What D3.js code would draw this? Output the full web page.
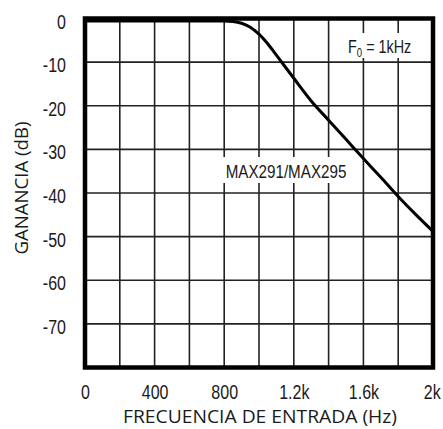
<!DOCTYPE html>
<html><head><meta charset="utf-8">
<script src="https://cdn.jsdelivr.net/npm/d3@7"></script>
<style>body{margin:0;background:#fff}svg{display:block}</style>
</head><body>
<script>
const freqHz = [0,200,400,600,800,850,900,950,1000,1050,1100,1200,1300,1400,1500,1600,1700,1800,1900,2000];
const gainDb = [-0.6,-0.6,-0.6,-0.6,-0.6,-0.7,-1.1,-2.0,-3.6,-5.8,-8.4,-13.7,-18.9,-23.3,-27.7,-32.1,-36.4,-40.8,-44.9,-48.8];
const xTicks = [0,400,800,1200,1600,2000];
const xTickLabels = ["0","400","800","1.2k","1.6k","2k"];
const xGrid = [200,400,600,800,1000,1200,1400,1600,1800];
const yTicks = [0,-10,-20,-30,-40,-50,-60,-70];
const yGrid = [-10,-20,-30,-40,-50,-60,-70];
const seriesName = "MAX291/MAX295";

const W=443,H=429;
const svg=d3.select("body").append("svg").attr("width",W).attr("height",H);
const x=d3.scaleLinear().domain([0,2000]).range([85,433]);
const y=d3.scaleLinear().domain([0,-80]).range([18.5,367.5]);
const narrow='"Liberation Sans",Arial,sans-serif';
const ink="#1a1a1a";

// grid
svg.append("g").selectAll("line").data(xGrid).join("line")
 .attr("x1",d=>x(d)).attr("x2",d=>x(d)).attr("y1",y(0)).attr("y2",y(-80))
 .attr("stroke","#222").attr("stroke-width",1.6);
svg.append("g").selectAll("line").data(yGrid).join("line")
 .attr("y1",d=>y(d)).attr("y2",d=>y(d)).attr("x1",x(0)).attr("x2",x(2000))
 .attr("stroke","#222").attr("stroke-width",1.6);

// labels with white background
function bg(tx,ty,w,h){svg.append("rect").attr("x",tx).attr("y",ty).attr("width",w).attr("height",h).attr("fill","#fff");}
bg(222,157,128,26);
svg.append("text").attr("transform","translate(286,178) scale(0.8,1)").attr("text-anchor","middle")
 .attr("font-family",narrow).attr("font-size",19).attr("fill",ink).text(seriesName);
bg(345,33,76,25);
const f0=svg.append("text").attr("transform","translate(348,53) scale(0.8,1)").attr("font-family",narrow).attr("font-size",18).attr("fill",ink);
f0.append("tspan").text("F");
f0.append("tspan").attr("font-size",12).attr("dy",4).text("0");
f0.append("tspan").attr("dy",-4).text(" = 1kHz");

// curve
const line=d3.line().x((d,i)=>x(freqHz[i])).y(d=>y(d)).curve(d3.curveMonotoneX);
svg.append("path").datum(gainDb).attr("d",line).attr("fill","none").attr("stroke","#000").attr("stroke-width",3);

// border
svg.append("rect").attr("x",x(0)).attr("y",y(0)).attr("width",x(2000)-x(0)).attr("height",y(-80)-y(0))
 .attr("fill","none").attr("stroke","#000").attr("stroke-width",4.5);

// axes
const xAxis=d3.axisBottom(x).tickValues(xTicks).tickFormat((d,i)=>xTickLabels[i]).tickSize(0).tickPadding(0);
const gx=svg.append("g").attr("transform","translate(0,399)").call(xAxis);
gx.select(".domain").remove();
gx.selectAll("text").attr("font-family",narrow).attr("font-size",20).attr("fill",ink).attr("dy","0").attr("y",0)
 .attr("transform","scale(0.8,1)");
gx.selectAll("text").filter(d=>d===2000).attr("text-anchor","end").attr("x",9);
const yAxis=d3.axisLeft(y).tickValues(yTicks).tickFormat(d=>String(d)).tickSize(0).tickPadding(0);
const gy=svg.append("g").attr("transform","translate(66,0)").call(yAxis);
gy.select(".domain").remove();
gy.selectAll("text").attr("font-family",narrow).attr("font-size",20).attr("fill",ink).attr("dy","9.5").attr("x",0)
 .attr("transform","scale(0.8,1)");

svg.append("text").attr("x",260).attr("y",423).attr("text-anchor","middle")
 .attr("font-family",'"Open Sans",sans-serif').attr("font-size",18).attr("fill",ink)
 .attr("textLength",274).attr("lengthAdjust","spacingAndGlyphs").text("FRECUENCIA DE ENTRADA (Hz)");
svg.append("text").attr("transform","translate(28,188) rotate(-90)").attr("text-anchor","middle")
 .attr("font-family",'"Open Sans",sans-serif').attr("font-size",18).attr("fill",ink)
 .attr("textLength",133).attr("lengthAdjust","spacingAndGlyphs").text("GANANCIA (dB)");
</script>
</body></html>
